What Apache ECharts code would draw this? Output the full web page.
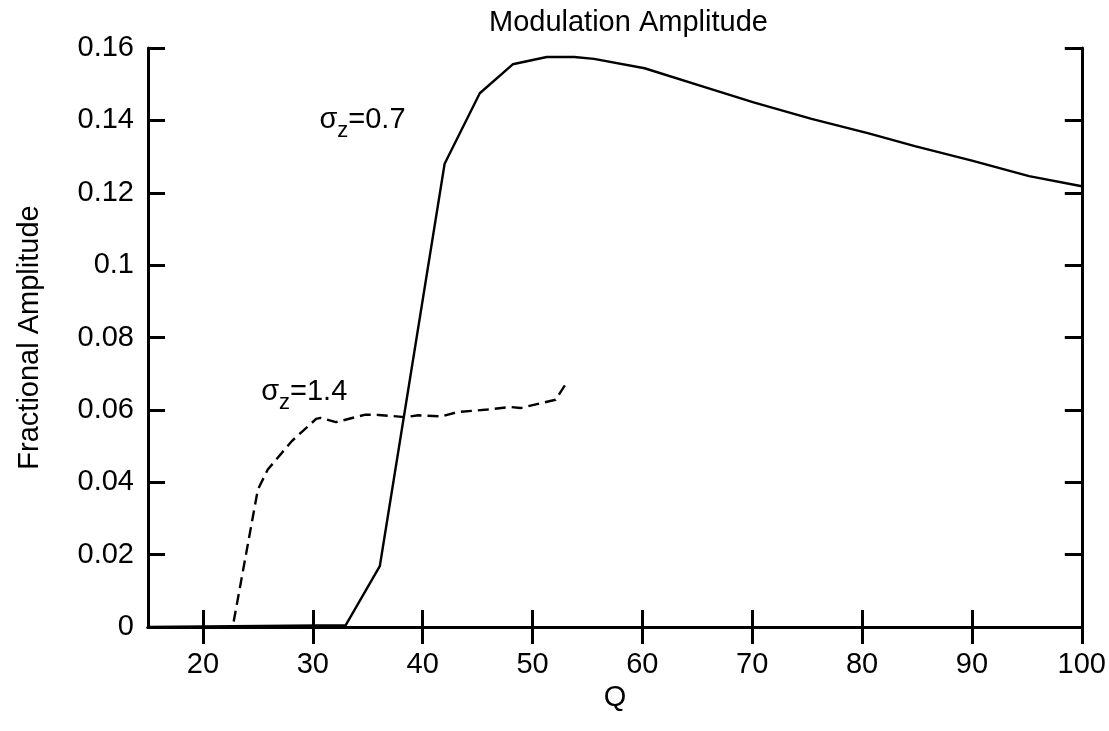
<!DOCTYPE html>
<html>
<head>
<meta charset="utf-8">
<script src="https://cdn.jsdelivr.net/npm/echarts@6/dist/echarts.min.js"></script>
<style>
  html, body { margin: 0; padding: 0; background: #fff; }
  #chart { width: 1109px; height: 731px; }
</style>
</head>
<body>
<div id="chart"></div>
<script>
// Data
var solidQ = [15, 33.0, 36.1, 42.0, 45.2, 48.2, 51.3, 53.8, 55.6, 60.2, 65.9, 70.2, 75.4, 80.6, 84.8, 90.0, 95.2, 100];
var solidAmp = [0, 0.0005, 0.0168, 0.128, 0.1475, 0.1555, 0.1575, 0.1575, 0.157, 0.1544, 0.149, 0.1449, 0.1404, 0.1364, 0.1329, 0.1289, 0.1246, 0.1218];

var dashQ = [22.8, 25.0, 25.9, 28.1, 30.3, 30.7, 32.1, 34.8, 36.0, 38.4, 39.6, 41.7, 43.2, 45.9, 48.0, 48.9, 52.1, 53.0];
var dashAmp = [0.0015, 0.038, 0.0435, 0.0514, 0.0575, 0.0578, 0.0566, 0.0587, 0.0586, 0.058, 0.0585, 0.0582, 0.0594, 0.0601, 0.0608, 0.0605, 0.0628, 0.067];

var xTicks = [20, 30, 40, 50, 60, 70, 80, 90, 100];

// curve labels: [Q, amplitude, sigma value]
var annotQ = [30.6, 25.3];
var annotAmp = [0.140, 0.0649];
var annotText = ['0.7', '1.4'];

var FONT = '"Liberation Sans", Arial, Helvetica, sans-serif';

function pairs(xs, ys) {
    return xs.map(function (x, i) { return [x, ys[i]]; });
}

var chart = echarts.init(document.getElementById('chart'));

var frameLine = { show: true, lineStyle: { color: '#000', width: 3 } };
var inTick = function (vals) {
    var t = { show: true, inside: true, length: 17, lineStyle: { color: '#000', width: 3 } };
    if (vals) t.customValues = vals;
    return t;
};

var option = {
    backgroundColor: '#fff',
    animation: false,
    title: {
        text: 'Modulation Amplitude',
        left: 484,
        top: 3,
        textStyle: { fontFamily: FONT, fontSize: 29, fontWeight: 'normal', color: '#000' }
    },
    grid: { left: 148, right: 22, top: 48, bottom: 104 },
    xAxis: [{
        type: 'value',
        min: 15,
        max: 100,
        name: 'Q',
        nameLocation: 'middle',
        nameGap: 50,
        nameTextStyle: { fontFamily: FONT, fontSize: 29, color: '#000' },
        axisLine: frameLine,
        axisTick: inTick(xTicks),
        axisLabel: { customValues: xTicks, margin: 23, fontFamily: FONT, fontSize: 29, color: '#000' },
        splitLine: { show: false }
    }, {
        type: 'value',
        position: 'top',
        min: 15,
        max: 100,
        axisLine: frameLine,
        axisTick: inTick(xTicks),
        axisLabel: { show: false },
        splitLine: { show: false }
    }],
    yAxis: [{
        type: 'value',
        min: 0,
        max: 0.16,
        interval: 0.02,
        name: 'Fractional Amplitude',
        nameLocation: 'middle',
        nameGap: 104,
        nameTextStyle: { fontFamily: FONT, fontSize: 29, color: '#000' },
        axisLine: frameLine,
        axisTick: inTick(),
        axisLabel: { margin: 14, fontFamily: FONT, fontSize: 29, color: '#000' },
        splitLine: { show: false }
    }, {
        type: 'value',
        position: 'right',
        min: 0,
        max: 0.16,
        interval: 0.02,
        axisLine: frameLine,
        axisTick: inTick(),
        axisLabel: { show: false },
        splitLine: { show: false }
    }],
    series: [{
        name: 'sigma 0.7',
        type: 'line',
        data: pairs(solidQ, solidAmp),
        symbol: 'none',
        lineStyle: { color: '#000', width: 2.4 },
        z: 3
    }, {
        name: 'sigma 1.4',
        type: 'line',
        data: pairs(dashQ, dashAmp),
        symbol: 'none',
        lineStyle: { color: '#000', width: 2.4, type: [11, 6] },
        z: 3
    }, {
        name: 'labels',
        type: 'scatter',
        symbolSize: 0,
        silent: true,
        data: pairs(annotQ, annotAmp),
        label: {
            show: true,
            position: 'right',
            distance: 0,
            color: '#000',
            opacity: 1,
            formatter: function (p) {
                return '{s|σ}{z|z}{s|=' + annotText[p.dataIndex] + '}';
            },
            rich: {
                s: { fontFamily: FONT, fontSize: 29, lineHeight: 44, verticalAlign: 'middle', color: '#000' },
                z: { fontFamily: FONT, fontSize: 22, lineHeight: 22, verticalAlign: 'bottom', color: '#000' }
            }
        },
        emphasis: { disabled: true }
    }]
};

chart.setOption(option);
</script>
</body>
</html>
